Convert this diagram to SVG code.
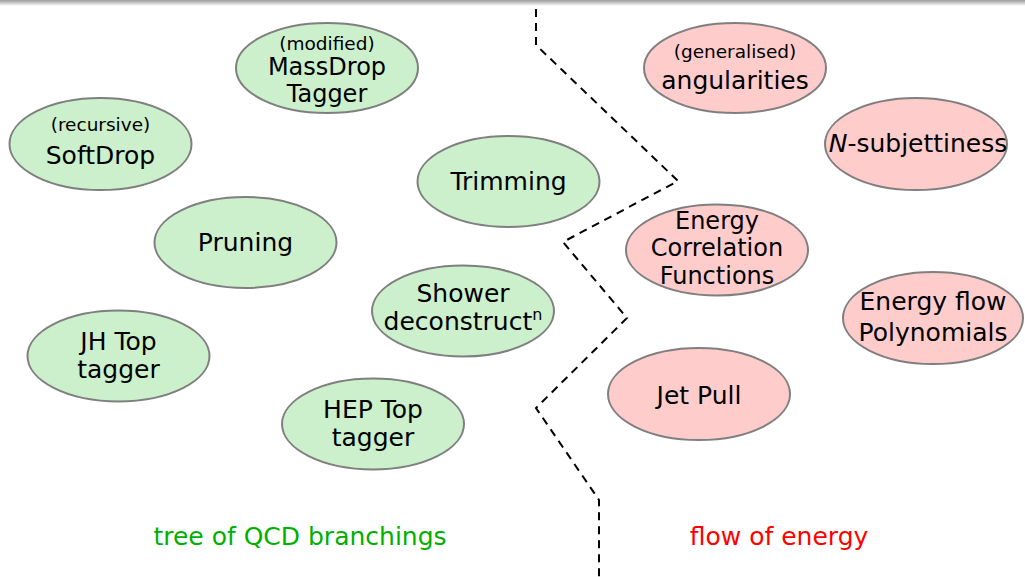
<svg xmlns="http://www.w3.org/2000/svg" width="1025" height="577" viewBox="0 0 1025 577">
  <defs>
    <linearGradient id="topshade" x1="0" y1="0" x2="0" y2="1">
      <stop offset="0" stop-color="#9a9a9a"/>
      <stop offset="1" stop-color="#ffffff"/>
    </linearGradient>
  </defs>
  <style>
    .g { fill: #ccefcc; stroke: #7f7f7f; stroke-width: 2; }
    .r { fill: #ffcccc; stroke: #7f7f7f; stroke-width: 2; }
    text { font-family: "DejaVu Sans", "Liberation Sans", sans-serif; text-anchor: middle; fill: #000; }
    .m { font-size: 25px; }
    .t { font-size: 24px; }
    .s { font-size: 18.5px; }
    .sep { fill: none; stroke: #000; stroke-width: 2; stroke-dasharray: 8 6; }
  </style>
  <rect x="0" y="0" width="1025" height="577" fill="#ffffff"/>
  <rect x="0" y="0" width="1025" height="6" fill="url(#topshade)"/>

  <g id="connectors">
    <polyline class="sep" points="536,9 536,45 678,181 563,242 627,318 536,408 599,500 599,577"/>
  </g>

  <g id="massdrop">
    <ellipse class="g" cx="327" cy="68" rx="91" ry="45"/>
    <text class="s" x="327" y="50">(modified)</text>
    <text class="t" x="327" y="75">MassDrop</text>
    <text class="t" x="327" y="102">Tagger</text>
  </g>
  <g id="softdrop">
    <ellipse class="g" cx="100.5" cy="144" rx="91" ry="46"/>
    <text class="s" x="100.5" y="131">(recursive)</text>
    <text class="m" x="100.5" y="164">SoftDrop</text>
  </g>
  <g id="trimming">
    <ellipse class="g" cx="508.5" cy="181.5" rx="91" ry="45.5"/>
    <text class="m" x="508.5" y="190">Trimming</text>
  </g>
  <g id="pruning">
    <ellipse class="g" cx="245.5" cy="242.5" rx="91" ry="45.5"/>
    <text class="m" x="245.5" y="251">Pruning</text>
  </g>
  <g id="shower">
    <ellipse class="g" cx="463" cy="311" rx="91" ry="45.5"/>
    <text class="m" x="463" y="302">Shower</text>
    <text class="m" x="463" y="330">deconstruct<tspan font-size="16" dy="-10">n</tspan></text>
  </g>
  <g id="jhtop">
    <ellipse class="g" cx="118.5" cy="356" rx="91" ry="45.5"/>
    <text class="m" x="118.5" y="350">JH Top</text>
    <text class="m" x="118.5" y="378">tagger</text>
  </g>
  <g id="heptop">
    <ellipse class="g" cx="373" cy="424" rx="91" ry="45.5"/>
    <text class="m" x="373" y="418">HEP Top</text>
    <text class="m" x="373" y="446">tagger</text>
  </g>

  <g id="angularities">
    <ellipse class="r" cx="735" cy="68" rx="91" ry="45"/>
    <text class="s" x="735" y="58">(generalised)</text>
    <text class="m" x="735" y="89">angularities</text>
  </g>
  <g id="nsubjettiness">
    <ellipse class="r" cx="916" cy="144" rx="91" ry="46"/>
    <text class="m" x="918" y="152"><tspan font-style="italic">N</tspan>-subjettiness</text>
  </g>
  <g id="ecf">
    <ellipse class="r" cx="717" cy="250" rx="91" ry="45.5"/>
    <text class="t" x="717" y="229">Energy</text>
    <text class="t" x="717" y="256">Correlation</text>
    <text class="t" x="717" y="284">Functions</text>
  </g>
  <g id="efp">
    <ellipse class="r" cx="933" cy="318" rx="90" ry="46"/>
    <text class="m" x="933" y="310">Energy flow</text>
    <text class="m" x="933" y="341">Polynomials</text>
  </g>
  <g id="jetpull">
    <ellipse class="r" cx="699" cy="394" rx="91" ry="46"/>
    <text class="m" x="699" y="404">Jet Pull</text>
  </g>

  <g id="labels">
    <text class="m" x="300" y="545" style="fill:#00b000">tree of QCD branchings</text>
    <text class="m" x="779" y="545" style="fill:#ff0000">flow of energy</text>
  </g>
</svg>
